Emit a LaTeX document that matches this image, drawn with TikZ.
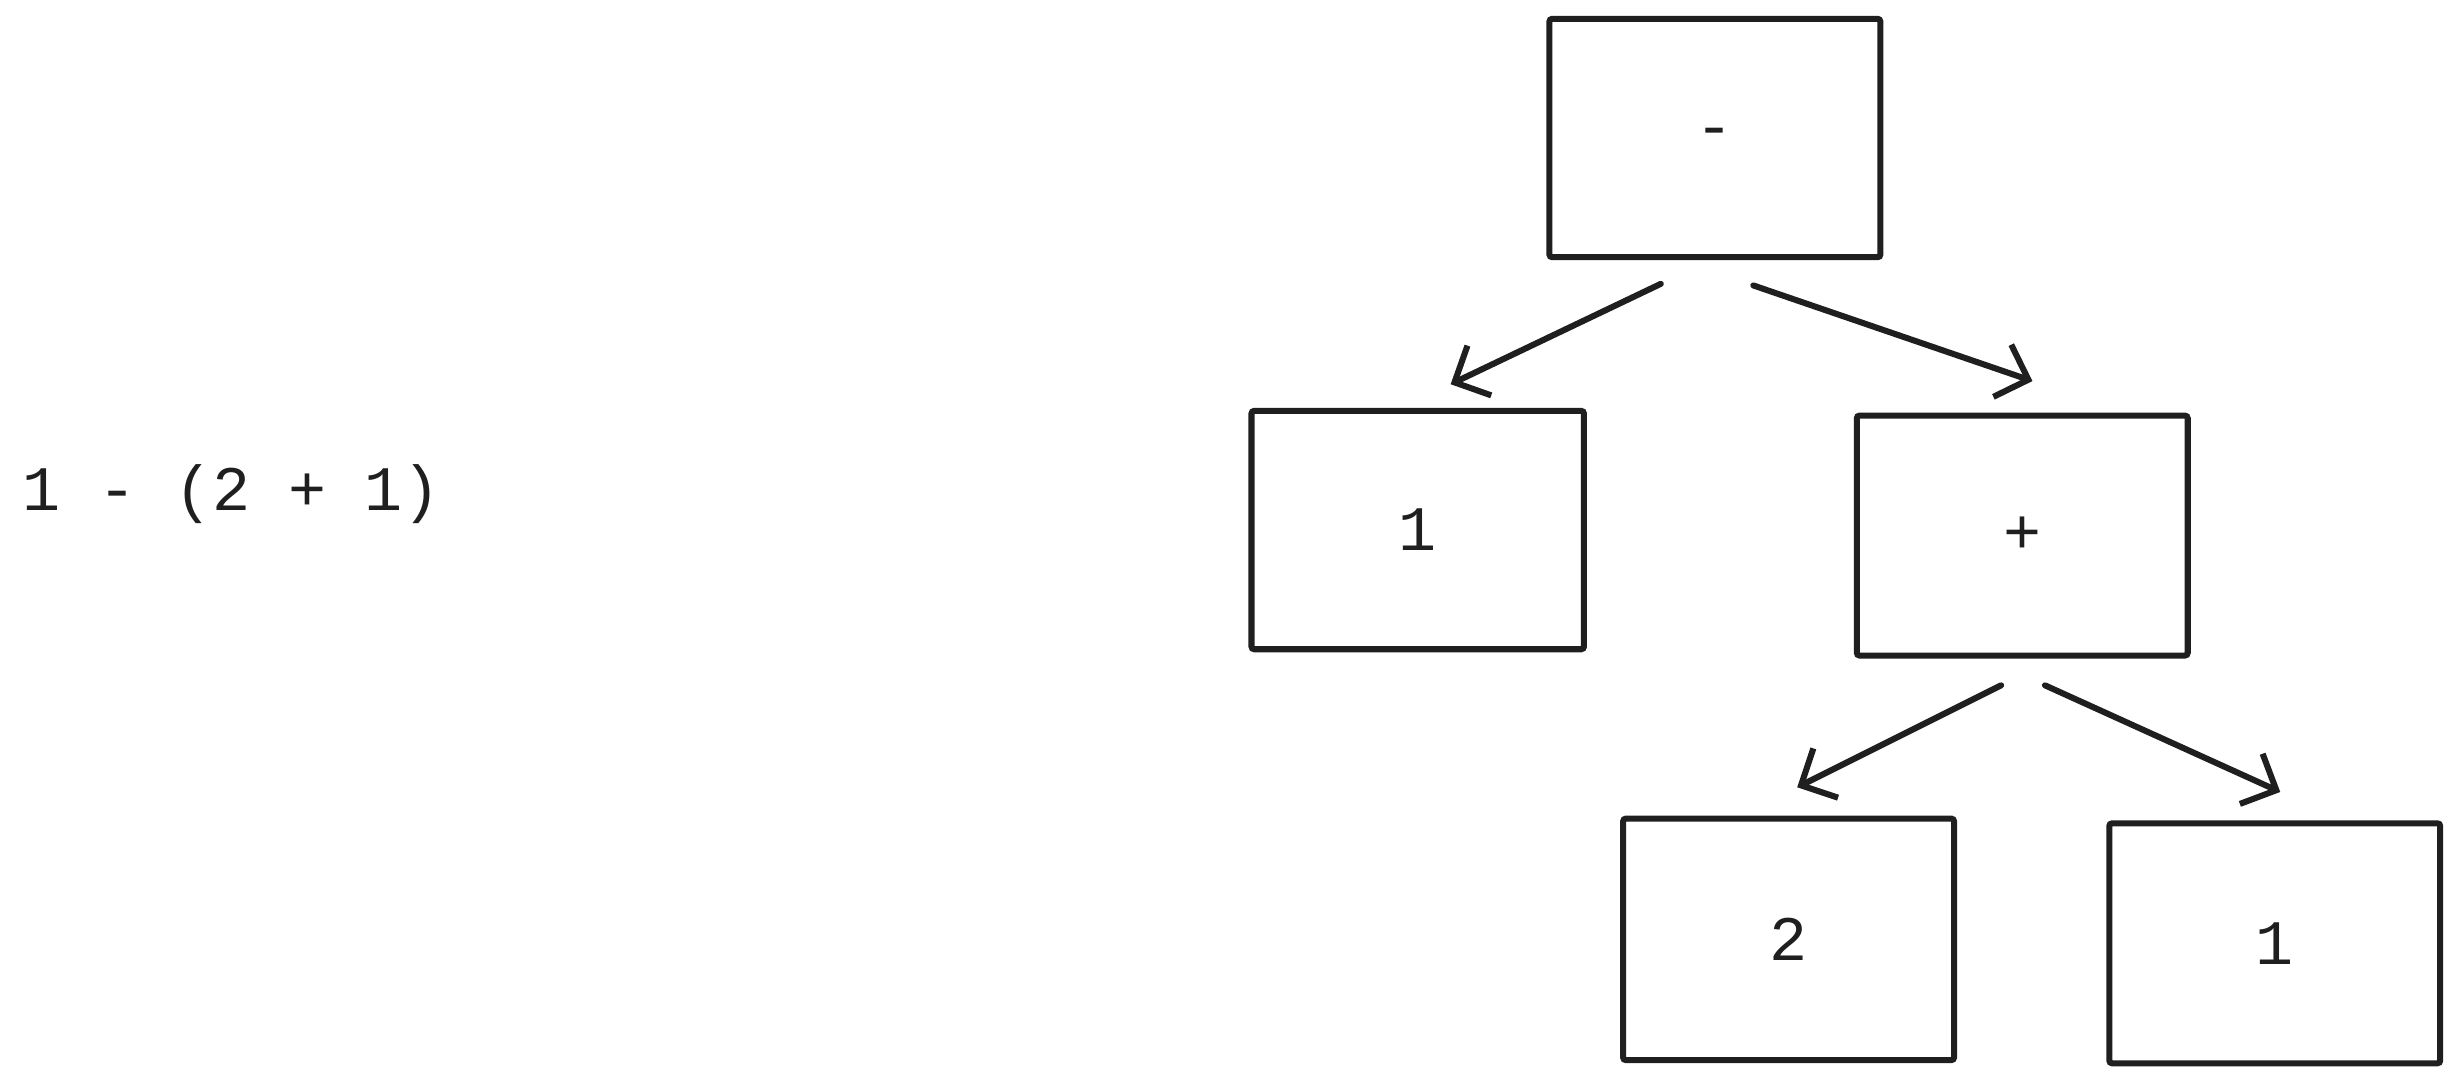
\documentclass[tikz,border=0pt]{standalone}
\usepackage{fontspec}
\setmonofont{Liberation Mono}
\usetikzlibrary{arrows.meta}
\begin{document}
\begin{tikzpicture}[x=0.02cm,y=-0.02cm,
  box/.style={draw=black!88,line width=2.2pt,rounded corners=1pt},
  lbl/.style={font=\ttfamily\fontsize{23}{26}\selectfont,text=black!88},
  edge/.style={draw=black!88,line width=2.2pt,line cap=round,-{Straight Barb[length=10pt,width=20pt,line width=2.2pt]}}]
\useasboundingbox (0,0) rectangle (1568,690.6);
\draw[box] (988,12) rectangle node[lbl] (m) {-} (1199,164);
\draw[box] (798,262) rectangle node[lbl] (a) {1} (1010,414);
\draw[box] (1184,265) rectangle node[lbl] (p) {+} (1395,418);
\draw[box] (1035,522) rectangle node[lbl] (b) {2} (1246,676);
\draw[box] (1345,525) rectangle node[lbl] (c) {1} (1556,678);
\coordinate (m1) at (1059,181); \coordinate (a1) at (925,245);
\coordinate (m2) at (1118,182); \coordinate (p1) at (1296,243);
\coordinate (p2) at (1276,437); \coordinate (b1) at (1146,502);
\coordinate (p3) at (1304,437); \coordinate (c1) at (1454,505);
\draw[edge] (m1) -- (a1);
\draw[edge] (m2) -- (p1);
\draw[edge] (p2) -- (b1);
\draw[edge] (p3) -- (c1);
\node[lbl,anchor=west] (expr) at (8,315) {1 - (2 + 1)};
\end{tikzpicture}
\end{document}
